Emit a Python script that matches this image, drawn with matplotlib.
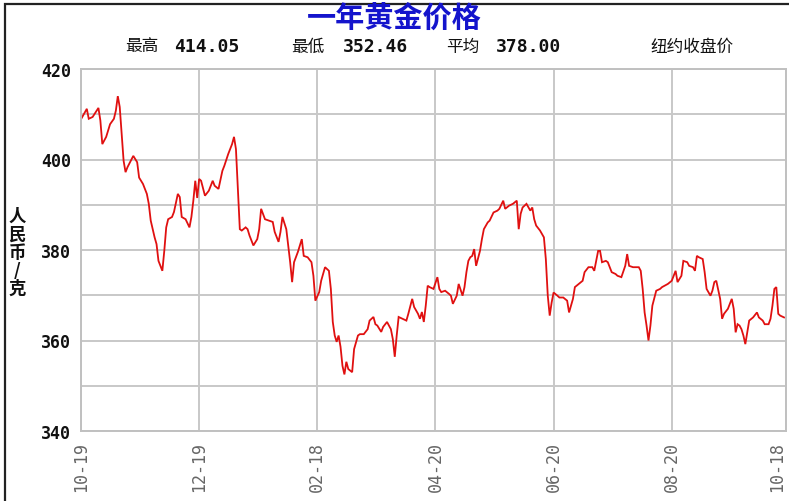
import matplotlib
matplotlib.use("Agg")
import matplotlib.pyplot as plt
from matplotlib.patches import Rectangle

W, H = 789, 502

# calendar days since 10-19, and NY closing price (RMB / gram)
days = [0, 3, 4, 6, 9, 10, 11, 13, 15, 17, 18, 19, 20, 21, 22, 23, 24, 26, 27, 29,
        30, 32, 34, 35, 36, 38, 39, 40, 42, 43, 44, 45, 47, 48, 50, 51, 52, 54, 56, 57,
        58, 59, 60, 61, 62, 64, 66, 68, 69, 71, 73, 74, 76, 78, 79, 80, 82, 83, 85, 86,
        87, 89, 91, 92, 93, 95, 97, 99, 100, 102, 103, 104, 106, 107, 108, 109, 110, 112, 114, 115,
        117, 119, 120, 121, 123, 124, 126, 128, 129, 130, 131, 132, 133, 134, 135, 136, 137, 138, 140, 141,
        143, 144, 146, 148, 149, 151, 152, 153, 155, 156, 158, 160, 161, 162, 163, 164, 166, 168, 169, 171,
        172, 174, 175, 176, 177, 178, 179, 180, 182, 184, 185, 186, 188, 190, 191, 192, 194, 195, 197, 198,
        199, 200, 201, 202, 203, 204, 206, 207, 208, 210, 211, 213, 215, 216, 218, 219, 221, 223, 225, 226,
        227, 228, 230, 232, 233, 234, 235, 237, 239, 240, 241, 242, 243, 244, 246, 247, 249, 251, 252, 254,
        255, 257, 259, 260, 262, 264, 265, 267, 268, 269, 271, 272, 274, 276, 277, 279, 281, 282, 283, 285,
        288, 289, 290, 291, 292, 293, 294, 295, 297, 299, 300, 303, 305, 307, 308, 310, 311, 313, 314, 316,
        317, 318, 319, 321, 322, 323, 325, 326, 327, 328, 330, 331, 332, 334, 336, 337, 338, 339, 340, 341,
        342, 343, 344, 345, 347, 349, 350, 352, 353, 355, 356, 357, 358, 359, 360, 361, 363]
prices = [408.9, 411.2, 409.0, 409.4, 411.4, 408.6, 403.4, 405.0, 407.8, 409.0, 410.8, 414.0, 411.6, 405.6, 399.7, 397.2, 398.3, 400.0, 400.8, 399.4,
          396.0, 394.6, 392.4, 390.2, 386.5, 382.8, 381.3, 377.6, 375.4, 379.8, 385.0, 386.8, 387.3, 388.4, 392.4, 391.7, 387.3, 386.8, 385.0, 387.3,
          390.9, 395.3, 391.5, 395.7, 395.3, 392.0, 393.1, 395.3, 394.2, 393.5, 397.5, 398.6, 401.2, 403.4, 405.0, 402.3, 384.6, 384.3, 385.0, 384.6,
          383.2, 381.0, 382.4, 384.6, 389.1, 386.8, 386.5, 386.2, 384.0, 381.8, 384.0, 387.3, 384.6, 381.0, 377.3, 372.9, 377.3, 379.6, 382.4, 378.7,
          378.4, 377.3, 374.3, 368.8, 370.7, 373.2, 376.2, 375.4, 371.4, 364.1, 361.1, 359.7, 361.1, 358.6, 354.4, 352.5, 355.3, 353.7, 353.0, 358.1,
          361.1, 361.4, 361.4, 362.5, 364.4, 365.2, 363.6, 363.3, 361.9, 363.0, 364.1, 362.5, 360.3, 356.4, 361.1, 365.2, 364.8, 364.4, 365.9, 369.2,
          367.4, 365.9, 364.8, 366.3, 364.1, 367.7, 372.1, 371.8, 371.4, 374.0, 371.4, 370.7, 371.0, 370.3, 369.9, 368.1, 369.9, 372.5, 369.9, 371.8,
          375.1, 377.6, 378.4, 378.7, 380.2, 376.5, 379.8, 382.4, 384.6, 386.1, 386.5, 388.3, 388.7, 389.1, 390.9, 389.1, 389.8, 390.2, 390.9, 384.6,
          388.0, 389.4, 390.2, 388.7, 389.4, 386.8, 385.4, 384.3, 382.8, 378.0, 369.9, 365.5, 368.4, 370.6, 369.9, 369.5, 369.5, 368.8, 366.2, 369.2,
          371.8, 372.5, 373.2, 375.1, 376.2, 376.2, 375.4, 379.8, 379.8, 377.3, 377.6, 377.3, 375.1, 374.7, 374.3, 374.0, 376.5, 379.1, 376.5, 376.2,
          376.2, 375.4, 371.4, 366.2, 363.3, 360.0, 363.3, 367.7, 371.0, 371.4, 371.8, 372.5, 373.2, 375.4, 372.9, 374.3, 377.6, 377.3, 376.5, 376.2,
          375.4, 378.7, 378.4, 378.0, 375.1, 371.4, 369.9, 371.0, 372.9, 373.2, 369.2, 364.8, 365.9, 367.0, 369.2, 367.0, 361.8, 363.6, 363.3, 362.5,
          361.1, 359.2, 361.8, 364.4, 365.1, 366.2, 365.1, 364.4, 363.6, 363.6, 364.8, 367.7, 371.4, 371.8, 365.9, 365.5, 365.1]

tick_days = [0, 61, 122, 183, 244, 305, 364]
tick_labels = ["10-19", "12-19", "02-18", "04-20", "06-20", "08-20", "10-18"]
y_ticks = [340, 360, 380, 400, 420]
title = "一年黄金价格"
stats = [("最高", "414.05"), ("最低", "352.46"), ("平均", "378.00")]
source = "纽约收盘价"
y_label = "人民币/克"

CJK = ["Noto Sans CJK SC", "DejaVu Sans"]
MONO = "DejaVu Sans Mono"


def fx(px):
    return px / W


def fy(py):
    return 1 - py / H


fig = plt.figure(figsize=(W / 100, H / 100), dpi=100)
fig.patch.set_facecolor("white")

# outer frame of the picture
fig.patches.append(Rectangle((fx(5), fy(505)), 1.0, fy(5) - fy(505), transform=fig.transFigure,
                             fill=False, edgecolor="#222222", linewidth=1.6))

ax = fig.add_axes([fx(81), fy(432), fx(786) - fx(81), fy(70) - fy(432)])
ax.plot(days, prices, color="#e01010", linewidth=1.3, solid_joinstyle="miter")

ax.set_xlim(0, 364)
ax.set_ylim(340, 420)
ax.set_xticks(tick_days)
ax.set_xticklabels(tick_labels, rotation=90, fontsize=12, family=MONO, color="#666666")
# last label sits on the right edge, keep it inside the picture
ax.get_xticklabels()[-1].set_horizontalalignment("right")
ax.set_yticks(y_ticks)
ax.set_yticklabels([str(v) for v in y_ticks], fontsize=12, family=MONO, fontweight="bold", color="#111111")
ax.set_yticks(range(340, 421, 10), minor=True)
ax.tick_params(axis="both", which="both", length=0)
ax.tick_params(axis="y", pad=7)
ax.tick_params(axis="x", pad=7)
ax.grid(True, which="both", color="#c8c8c8", linewidth=1.4)
ax.set_axisbelow(True)
for s in ax.spines.values():
    s.set_color("#c0c0c0")
    s.set_linewidth(1.4)

fig.text(fx(394), fy(18), title, family=CJK, fontsize=21, fontweight="bold", color="#1414cc",
         ha="center", va="center")

label_x = [(125, 174), (291, 343), (446, 496)]
for (name, val), (lx, nx) in zip(stats, label_x):
    fig.text(fx(lx), fy(47), name, family=CJK, fontsize=12, color="#111111", ha="left", va="center")
    fig.text(fx(nx), fy(47), val, family=MONO, fontsize=13, fontweight="bold", color="#111111",
             ha="left", va="center")
fig.text(fx(692), fy(47), source, family=CJK, fontsize=12, color="#111111", ha="center", va="center")

fig.text(fx(17), fy(253), "\n".join(y_label), family=CJK, fontsize=12.5, fontweight="bold",
         color="#111111", ha="center", va="center", linespacing=1.0)

fig.savefig("out.png", dpi=100)
